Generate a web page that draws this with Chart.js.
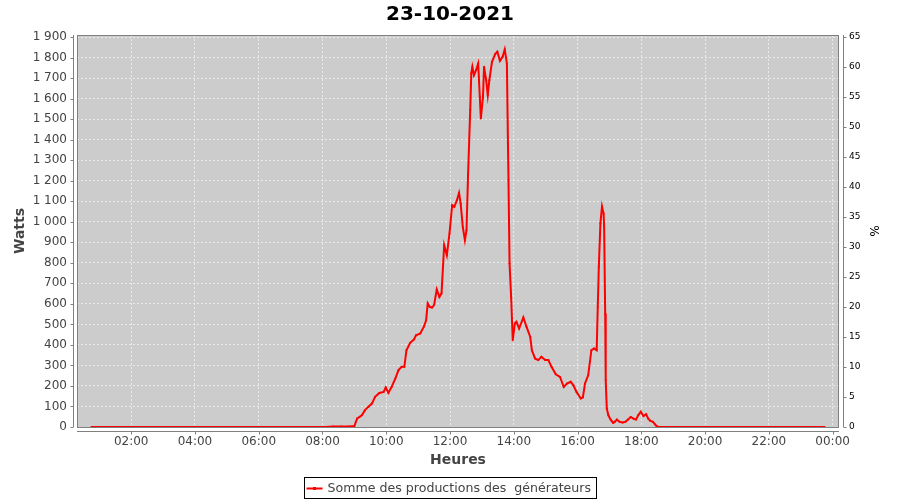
<!DOCTYPE html>
<html><head><meta charset="utf-8">
<script src="https://cdn.jsdelivr.net/npm/chart.js@4.4.0/dist/chart.umd.min.js"></script>
<style>html,body{margin:0;padding:0;background:#fff}#wrap{width:900px;height:500px}</style>
</head><body><div id="wrap"><canvas id="c" width="900" height="500"></canvas></div>
<script>
const chartTitle = '23-10-2021';
const seriesName = 'Somme des productions des  générateurs';
const xAxisTitle = 'Heures';
const yAxisTitle = 'Watts';
const y2AxisTitle = '%';

const times = [
 '00:45','01:05','01:25','01:45','02:05','02:25','02:45','03:05','03:25','03:45','04:05','04:25','04:45',
 '05:05','05:25','05:45','06:05','06:25','06:45','07:05','07:25','07:45','08:05','08:20','08:35','08:50','09:00',
 '09:05','09:10','09:14','09:20','09:26','09:33','09:39','09:47','09:55','09:59','10:04','10:10','10:17','10:23',
 '10:29','10:34','10:38','10:45','10:52','10:56','11:04','11:11','11:15','11:18','11:22','11:26','11:30','11:35',
 '11:40','11:44','11:49','11:54','11:59','12:04','12:08','12:13','12:17','12:20','12:24','12:28','12:31','12:34',
 '12:38','12:40','12:42','12:45','12:49','12:53','12:56','12:58','13:02','13:04','13:08','13:11','13:14','13:19',
 '13:25','13:29','13:34','13:39','13:43','13:47','13:49','13:50','13:52','13:55','13:58','14:02','14:05','14:10',
 '14:18','14:24','14:31','14:34','14:40','14:46','14:52','14:59','15:05','15:11','15:19','15:27','15:34','15:40',
 '15:47','15:52','15:58','16:06','16:10','16:14','16:20','16:26','16:31','16:36','16:38','16:40','16:43','16:46',
 '16:49','16:50','16:52','16:53','16:55','16:58','17:01','17:04','17:07','17:10','17:14','17:19','17:25','17:30',
 '17:35','17:40','17:45','17:50','17:54','17:59','18:04','18:09','18:13','18:17','18:22','18:26','18:29','18:32',
 '18:50','19:10','19:30','19:50','20:10','20:30','20:50','21:10','21:30','21:50','22:10','22:30','22:50','23:10',
 '23:30','23:45'
];
const watts = [
 0,0,0,0,0,0,0,0,0,0,0,0,0,
 0,0,0,0,0,0,0,0,0,0,3,3,3,5,
 41,50,57,82,98,114,147,166,171,192,166,195,236,277,
 293,293,374,410,426,447,456,490,520,602,585,582,594,670,
 634,651,886,837,943,1081,1073,1105,1141,1089,975,910,959,1235,
 1544,1723,1755,1714,1739,1771,1609,1503,1609,1755,1690,1617,1690,1779,
 1817,1828,1784,1804,1840,1771,1382,1203,797,634,423,504,512,480,
 534,488,439,374,334,326,342,326,326,293,257,244,195,212,
 220,204,171,139,144,212,252,374,383,374,585,780,992,1075,
 1040,975,553,228,90,57,41,30,20,25,36,25,22,25,
 36,49,41,36,57,74,53,62,41,30,25,12,4,0,
 0,0,0,0,0,0,0,0,0,0,0,0,0,0,
 0,0
];

const xTickHours = [2,4,6,8,10,12,14,16,18,20,22,24];
const xTickLabels = ['02:00','04:00','06:00','08:00','10:00','12:00','14:00','16:00','18:00','20:00','22:00','00:00'];
const yLeftTicks = [0,100,200,300,400,500,600,700,800,900,1000,1100,1200,1300,1400,1500,1600,1700,1800,1900];
const yLeftLabels = ['0','100','200','300','400','500','600','700','800','900','1 000','1 100','1 200','1 300','1 400','1 500','1 600','1 700','1 800','1 900'];
const yRightTicks = [0,5,10,15,20,25,30,35,40,45,50,55,60,65];

function toHours(t){ const p = t.split(':'); return (+p[0]) + (+p[1])/60; }
const points = times.map((t,i) => ({x: toHours(t), y: watts[i]}));

const FONT = '"DejaVu Sans", sans-serif';

const plotDeco = {
  id: 'plotDeco',
  beforeDraw(chart){
    const {ctx, chartArea: a} = chart;
    ctx.save();
    ctx.fillStyle = '#ffffff';
    ctx.fillRect(0,0,chart.width,chart.height);
    ctx.fillStyle = '#cccccc';
    ctx.fillRect(a.left, a.top, a.right-a.left, a.bottom-a.top);
    ctx.restore();
  },
  afterDatasetsDraw(chart){
    const {ctx, chartArea: a, scales} = chart;
    ctx.save();
    ctx.strokeStyle = '#808080';
    ctx.lineWidth = 1;
    ctx.strokeRect(Math.round(a.left)+0.5, Math.round(a.top)+0.5, Math.round(a.right-a.left)-1, Math.round(a.bottom-a.top));
    const lx = Math.round(a.left) - 3.5, rx = Math.round(a.right) + 4.5, by = Math.round(a.bottom) + 4.5;
    ctx.beginPath();
    ctx.moveTo(lx, a.top); ctx.lineTo(lx, a.bottom);
    ctx.moveTo(rx, a.top); ctx.lineTo(rx, a.bottom);
    ctx.moveTo(a.left, by); ctx.lineTo(a.right, by);
    scales.y.ticks.forEach(t => { const p = Math.round(scales.y.getPixelForValue(t.value)) + 0.5; ctx.moveTo(lx-3, p); ctx.lineTo(lx, p); });
    scales.y2.ticks.forEach(t => { const p = Math.round(scales.y2.getPixelForValue(t.value)) + 0.5; ctx.moveTo(rx, p); ctx.lineTo(rx+3, p); });
    scales.x.ticks.forEach(t => { const p = Math.round(scales.x.getPixelForValue(t.value)) + 0.5; ctx.moveTo(p, by); ctx.lineTo(p, by+3); });
    ctx.stroke();
    ctx.restore();
  },
  afterDraw(chart){
    const ctx = chart.ctx;
    ctx.save();
    ctx.font = '12.6px ' + FONT;
    const w = ctx.measureText(seriesName).width;
    const total = 2 + 16 + 5 + w + 5;
    const left = Math.round(450 - total/2) + 0.5;
    const top = 477.5, h = 21, cy = 488.5;
    ctx.strokeStyle = '#000';
    ctx.lineWidth = 1;
    ctx.strokeRect(left, top, Math.round(total), h);
    ctx.strokeStyle = '#ff0000';
    ctx.lineWidth = 2;
    ctx.beginPath(); ctx.moveTo(left+2, cy); ctx.lineTo(left+18, cy); ctx.stroke();
    ctx.fillStyle = '#ff0000';
    ctx.fillRect(left+8.5, cy-1.5, 3, 3);
    ctx.fillStyle = '#444444';
    ctx.textBaseline = 'middle';
    ctx.textAlign = 'left';
    ctx.fillText(seriesName, left+23, cy);
    ctx.restore();
  }
};

const gridColor = '#ebebeb';

new Chart(document.getElementById('c'), {
  type: 'line',
  data: {
    datasets: [{
      label: seriesName,
      data: points,
      yAxisID: 'y',
      borderColor: '#ff0000',
      backgroundColor: '#ff0000',
      borderWidth: 2,
      pointRadius: 1,
      pointBorderWidth: 0,
      pointBackgroundColor: '#ff0000',
      tension: 0,
      fill: false,
      clip: 0
    }]
  },
  options: {
    responsive: false,
    animation: false,
    devicePixelRatio: 1,
    layout: { padding: 0 },
    plugins: {
      legend: { display: false },
      tooltip: { enabled: false },
      title: {
        display: true,
        text: chartTitle,
        color: '#000',
        font: { family: FONT, size: 20, weight: 'bold' },
        padding: { top: 3, bottom: 8 }
      }
    },
    scales: {
      x: {
        type: 'linear',
        position: 'bottom',
        min: 0.3,
        max: 24.2,
        afterBuildTicks: s => { s.ticks = xTickHours.map(v => ({value: v})); },
        afterFit: s => { s.height = 73; },
        ticks: {
          autoSkip: false, maxRotation: 0, padding: 8,
          color: '#444444', font: { family: FONT, size: 12 },
          callback: v => xTickLabels[xTickHours.indexOf(v)]
        },
        grid: { color: gridColor, lineWidth: 1, drawTicks: false },
        border: { display: false, dash: [2,2] },
        title: { display: true, text: xAxisTitle, color: '#444444', font: { family: FONT, size: 14, weight: 'bold' }, padding: { top: 0, bottom: 31 } }
      },
      y: {
        type: 'linear',
        position: 'left',
        min: 0,
        max: 1910,
        afterBuildTicks: s => { s.ticks = yLeftTicks.map(v => ({value: v})); },
        afterFit: s => { s.width = 77; },
        ticks: {
          padding: 10, color: '#444444', font: { family: FONT, size: 12 },
          callback: v => yLeftLabels[yLeftTicks.indexOf(v)]
        },
        grid: { color: gridColor, lineWidth: 1, drawTicks: false },
        border: { display: false, dash: [2,2] },
        title: { display: true, text: yAxisTitle, color: '#444444', font: { family: FONT, size: 14, weight: 'bold' }, padding: { top: 12, bottom: 0 } }
      },
      y2: {
        type: 'linear',
        position: 'right',
        min: 0,
        max: 65.33,
        afterBuildTicks: s => { s.ticks = yRightTicks.map(v => ({value: v})); },
        afterFit: s => { s.width = 61; },
        ticks: {
          padding: 10, color: '#000000', font: { family: FONT, size: 9 },
          callback: v => String(v)
        },
        grid: { display: false, drawTicks: false },
        border: { display: false },
        title: { display: true, text: y2AxisTitle, color: '#000000', font: { family: FONT, size: 12 }, padding: { top: 20, bottom: 0 } }
      }
    }
  },
  plugins: [plotDeco]
});
</script>
</body></html>
